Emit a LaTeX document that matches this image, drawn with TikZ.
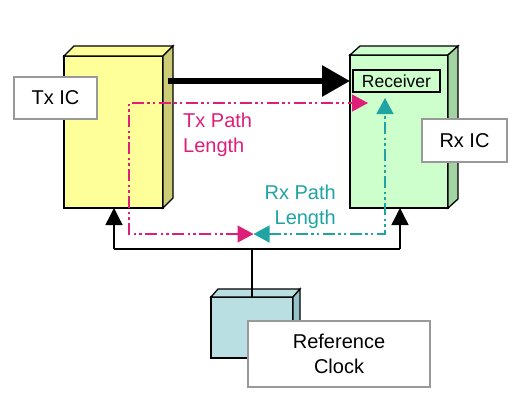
\documentclass[tikz,border=0pt]{standalone}
\usepackage{fontspec}
\setmainfont{Liberation Sans}
\usetikzlibrary{arrows.meta}
\definecolor{txfront}{HTML}{FFFF99}
\definecolor{txside}{HTML}{CCCC77}
\definecolor{rxfront}{HTML}{CCFFCC}
\definecolor{rxside}{HTML}{A3D3A3}
\definecolor{clkfront}{HTML}{B9DFE2}
\definecolor{clkside}{HTML}{94C2C6}
\definecolor{magline}{HTML}{DD1F78}
\definecolor{tealline}{HTML}{1FA3A3}
\definecolor{lblborder}{HTML}{999999}
\tikzset{
  face/.style={draw=black, line width=1.3pt, line join=miter},
  frontface/.style={face, inner sep=0pt, outer sep=0pt},
  lblbox/.style={draw=lblborder, fill=white, line width=1.3pt, inner sep=0pt,
    font=\fontsize{20}{25}\selectfont, align=center},
  wire/.style={draw=black, line width=1.4pt},
  wiretip/.style={-{Triangle[length=17pt,width=17pt]}},
  pathline/.style={line width=1.3pt, dash pattern=on 12pt off 3pt on 2.5pt off 3pt on 2.5pt off 4pt},
  ptip/.tip={Triangle[length=16pt,width=17pt]},
  pathtext/.style={inner sep=0pt, font=\fontsize{20}{24.5}\selectfont}
}
\begin{document}
\begin{tikzpicture}[x=1pt,y=-1pt]
\useasboundingbox (0,0) rectangle (529,405);

% ---- Tx IC block
\node[frontface, fill=txfront, minimum width=99pt, minimum height=152pt] (tx) at (113.5,132) {};
\draw[face, fill=txfront] (tx.north west) -- ++(10,-10) -- ++(99,0) -- (tx.north east) -- cycle;
\draw[face, fill=txside] (tx.north east) -- ++(10,-10) -- ++(0,152) -- (tx.south east) -- cycle;

% ---- Rx IC block
\node[frontface, fill=rxfront, minimum width=98pt, minimum height=153pt] (rx) at (399,131.5) {};
\draw[face, fill=rxfront] (rx.north west) -- ++(10,-9) -- ++(98,0) -- (rx.north east) -- cycle;
\draw[face, fill=rxside] (rx.north east) -- ++(10,-9) -- ++(0,153) -- (rx.south east) -- cycle;

% Receiver
\node[draw=black, fill=rxfront, line width=1.2pt, inner sep=0pt, minimum width=87pt, minimum height=22pt,
  font=\fontsize{17.5}{20}\selectfont] (recv) at (396.5,81) {Receiver};

% ---- Reference clock block
\node[frontface, fill=clkfront, minimum width=82pt, minimum height=61pt] (clk) at (252,327.5) {};
\draw[face, fill=clkfront] (clk.north west) -- ++(7,-8) -- ++(82,0) -- (clk.north east) -- cycle;
\draw[face, fill=clkside] (clk.north east) -- ++(7,-8) -- ++(0,61) -- (clk.south east) -- cycle;

% ---- labels
\node[lblbox, minimum width=83pt, minimum height=42pt] (txl) at (55.5,98) {Tx IC};
\node[lblbox, minimum width=85pt, minimum height=43pt] (rxl) at (464.5,140.5) {Rx IC};
\node[lblbox, minimum width=182pt, minimum height=66pt] (clkl) at (339,354) {Reference\\Clock};

% ---- thick data arrow
\coordinate (dstart) at (168,81);
\draw[line width=6pt, -{Triangle[length=28pt,width=30pt]}] (dstart) -- (dstart -| rx.west);

% ---- clock distribution
\coordinate (jn) at (252,249);
\coordinate (jl) at (114,249);
\coordinate (jr) at (400,249);
\draw[wire] (jl) -- (jr);
\draw[wire] (jn) -- (clk.north);
\draw[wire, wiretip] (jl) -- (jl |- tx.south);
\draw[wire, wiretip] (jr) -- (jr |- rx.south);

% ---- path lengths
\coordinate (meet) at (253.5,234);
\coordinate (mc1) at (129,234);
\coordinate (mc2) at (129,103);
\coordinate (mend) at (368,103);
\draw[pathline, draw=magline, {ptip}-{ptip}] (meet) -- (mc1) -- (mc2) -- (mend);
\coordinate (tc1) at (385,234);
\coordinate (tend) at (385,98);
\draw[pathline, draw=tealline, {ptip}-{ptip}] (meet) -- (tc1) -- (tend);

\node[pathtext, text=magline, anchor=north west, align=left] (txp) at (183,113) {Tx Path\\Length};
\node[pathtext, text=tealline, anchor=north east, align=right] (rxp) at (336,185) {Rx Path\\Length};
\end{tikzpicture}
\end{document}
